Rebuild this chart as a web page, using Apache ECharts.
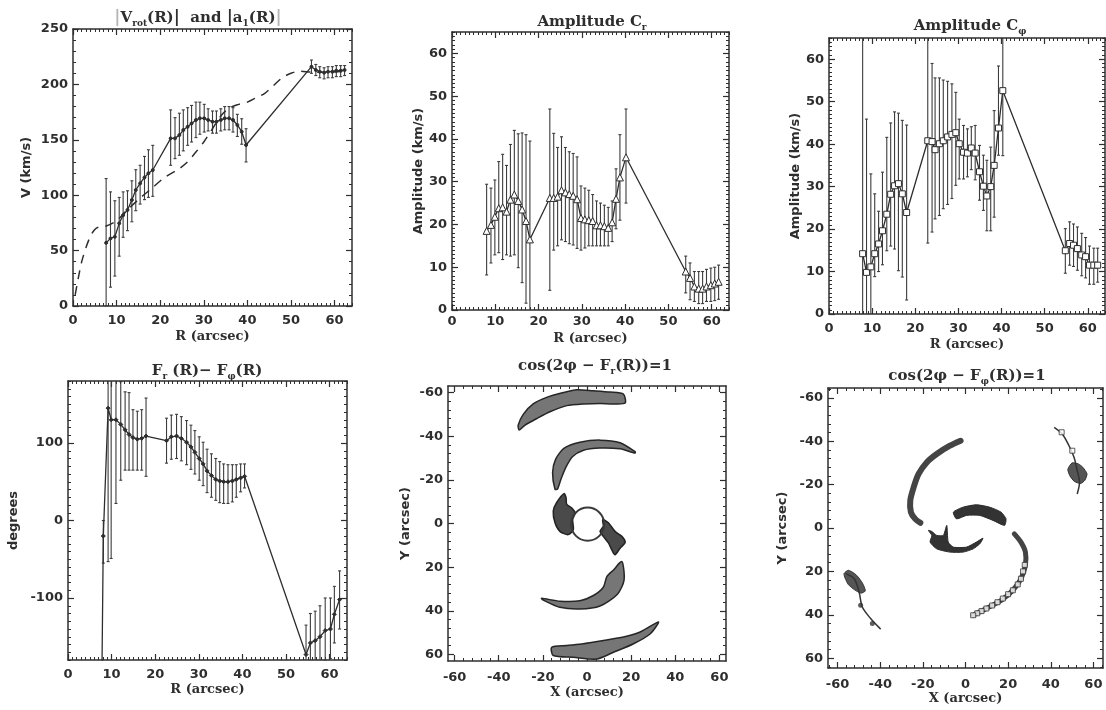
<!DOCTYPE html>
<html><head><meta charset="utf-8">
<script src="https://cdn.jsdelivr.net/npm/echarts@6/dist/echarts.min.js"></script>
<style>html,body{margin:0;padding:0;background:#fff}#c{width:1106px;height:710px}</style>
</head><body><div id="c"></div>
<script>
// ================= DATA =================
const rTicks = [0, 10, 20, 30, 40, 50, 60];
const vTicks = [0, 50, 100, 150, 200, 250];
const ampTicks = [0, 10, 20, 30, 40, 50, 60];
const degTicks = [-100, 0, 100];
const xyTicks = [-60, -40, -20, 0, 20, 40, 60];

// Panel 1: |Vrot(R)| with errors, and |a1(R)| dashed
const p1R  = [7.6, 8.6, 9.6, 10.6, 11.5, 12.5, 13.5, 14.4, 15.4, 16.4, 17.3, 18.3,
              22.4, 23.4, 24.4, 25.3, 26.3, 27.2, 28.2, 29.1, 30.1, 31.0, 32.0, 32.9, 33.9, 34.8, 35.8, 36.7, 37.7, 38.7, 39.7,
              54.7, 55.7, 56.6, 57.6, 58.5, 59.5, 60.4, 61.4, 62.3];
const p1V  = [57, 61, 62.5, 74.6, 82, 86.7, 95.7, 104.7, 110.7, 116, 119.8, 122.7,
              151.3, 151.3, 154.3, 158.8, 161.8, 164.8, 167.9, 169.4, 169.4, 167.9, 166.4, 166.4, 167.9, 169.4, 169.4, 167.9, 163.4, 157.3, 145.3,
              216, 213, 211.5, 210.6, 211.5, 211.5, 212.4, 212.4, 213];
const p1Hi = [115, 103, 95, 98, 103, 104, 113, 123, 127, 135, 141, 145,
              177, 170, 174, 177, 179, 181, 184, 184, 182, 178, 176, 176, 178, 180, 180, 179, 173, 169, 160,
              222, 218, 216, 215, 216, 216, 217, 217, 217];
const p1Lo = [0, 17, 27, 45, 62, 68, 76, 86, 92, 96, 98, 99,
              127, 133, 136, 140, 145, 148, 152, 155, 157, 158, 156, 156, 158, 159, 159, 157, 153, 146, 130,
              210, 208, 206, 205, 206, 206, 207, 207, 208];
const p1DashR = [0.5, 1.2, 2.0, 3.0, 4.0, 5.0, 5.8, 7.5, 10, 12, 15, 18, 21, 24, 26, 28, 30, 32, 34, 36, 38, 40, 42, 44, 46, 48, 50, 52, 55, 58, 62];
const p1DashV = [10, 25, 40, 53, 63, 69, 71, 72, 77, 85, 96, 106, 116, 123, 129, 138, 148, 160, 172, 179, 182, 184, 188, 192, 199, 206, 210, 212, 211, 211, 212];

// Panel 2: amplitude C_r
const p2R  = [8.0, 9.0, 9.9, 10.8, 11.7, 12.6, 13.5, 14.4, 15.3, 16.2, 17.1, 18.0,
              22.6, 23.5, 24.4, 25.3, 26.2, 27.1, 28.0, 28.9, 29.8, 30.7, 31.6, 32.5, 33.4, 34.3, 35.2, 36.1, 37.0, 37.9, 38.8, 40.2,
              54.0, 55.0, 56.0, 57.0, 57.9, 58.8, 59.8, 60.7, 61.6];
const p2C  = [18.5, 19.9, 21.8, 23.8, 24, 23, 25.8, 27, 25.5, 23.5, 20.8, 16.5,
              26.2, 26.2, 26.5, 28, 27.5, 27.1, 26.7, 25.9, 21.5, 21.2, 21, 20.8, 19.8, 19.8, 19.6, 19.2, 20.5, 26, 31, 35.7,
              9, 7.5, 5.5, 5, 5, 5.5, 5.8, 6.2, 6.6];
const p2Hi = [29.4, 28.5, 30.4, 34.7, 36.4, 33.8, 38.7, 42, 41.2, 41.4, 41, 39.5,
              47, 41.3, 38, 40.5, 38, 37, 36.6, 35.8, 29, 28.5, 28, 27, 25.5, 25, 24.5, 24, 25.5, 33, 41, 47,
              12.6, 11, 9, 9, 9, 9.5, 9.8, 10, 10.5];
const p2Lo = [8.2, 11, 12.9, 13.4, 11.8, 12.9, 12.6, 12.9, 9.9, 6.4, 1.6, -5,
              4.6, 14, 15, 16.4, 16, 15.5, 15.2, 14.4, 14, 14.5, 15, 15, 15, 15, 15, 15, 16, 19, 21, 25,
              4, 2.4, 2, 1.5, 1.5, 2, 2, 2.2, 2.5];

// Panel 3: amplitude C_phi
const p3R  = [7.8, 8.7, 9.7, 10.6, 11.5, 12.4, 13.4, 14.3, 15.2, 16.1, 17.0, 18.0,
              22.9, 23.9, 24.6, 25.6, 26.5, 27.5, 28.5, 29.4, 30.2, 31.2, 32.1, 33.0, 33.9, 34.9, 35.8, 36.6, 37.5, 38.3, 39.3, 40.3,
              54.8, 55.8, 56.7, 57.6, 58.6, 59.5, 60.4, 61.4, 62.3];
const p3C  = [14.2, 9.8, 11.1, 14.2, 16.5, 19.6, 23.5, 28.2, 30.2, 30.7, 28.3, 23.9,
              40.8, 40.6, 38.7, 40.1, 40.8, 41.7, 42.3, 42.7, 40.1, 38.1, 37.9, 39.1, 37.9, 33.5, 30.1, 27.8, 30.0, 35.0, 43.8, 52.6,
              14.9, 16.6, 16.2, 15.4, 13.9, 13.5, 11.5, 11.5, 11.5];
const p3Hi = [90, 45.9, 33, 28.3, 24.2, 33.4, 41.6, 45, 47.6, 47.3, 45.6, 44.5,
              90, 59, 55.6, 55.6, 55.1, 54.8, 54.2, 52.2, 45.9, 44.4, 43.6, 44.1, 44.4, 39.7, 37.4, 36.2, 39.3, 47.9, 58.4, 90,
              20.1, 21.7, 21.2, 20.5, 19, 18, 16, 15.5, 15.5];
const p3Lo = [-5, -5, -5, 8.8, 10, 11.6, 14.9, 16, 15.3, 10.2, 8.7, 3.3,
              16.7, 19.3, 22.4, 23.2, 24.8, 25.8, 27.2, 30.3, 31.8, 31.8, 32.3, 34, 31.6, 26.8, 24.4, 19.6, 19.6, 22.8, 37.4, 37.3,
              9.6, 11.5, 11.2, 10.3, 9, 8.5, 7, 7, 7.5];

// Panel 4: F_r(R) - F_phi(R)
const p4R  = [7.8, 8.1, 9.2, 9.9, 11.0, 12.1, 13.1, 14.0, 14.9, 15.9, 16.9, 17.9,
              22.6, 23.7, 24.9, 26.0, 27.2, 28.2, 29.1, 30.1, 31.0, 31.9, 32.9, 33.9, 34.8, 35.7, 36.7, 37.7, 38.6, 39.6, 40.5,
              54.6, 55.6, 56.7, 57.8, 59.0, 60.2, 61.1, 62.3];
const p4D  = [-190, -20, 145, 130, 130, 124, 117, 111, 107, 105, 106, 109,
              103, 108, 109, 106, 101, 95, 88, 80, 73, 64, 58, 53, 51, 50, 50, 51, 53, 55, 57,
              -173, -158, -155, -150, -142, -140, -121, -102];
const p4Hi = [-190, 0, 200, 200, 200, 179, 166, 165, 143, 141, 143, 158,
              132, 136, 137, 134, 129, 123, 116, 108, 101, 92, 86, 80, 76, 73, 72, 72, 72, 73, 73,
              -135, -120, -117, -110, -100, -100, -85, -65];
const p4Lo = [-190, -55, -53, -49, 22, 52, 65, 65, 65, 65, 65, 57,
              74, 79, 80, 77, 72, 66, 60, 52, 45, 36, 30, 26, 23, 22, 22, 24, 30, 37, 42,
              -210, -196, -193, -188, -180, -178, -158, -140];

// Panel 5: regions where cos(2phi - F_r(R)) = 1 (outlines, X/Y arcsec)
const p5ArcTop = [[-31.2,-45],[-28.9,-50],[-24.4,-54.8],[-18.3,-57.8],[-10.7,-60],[-4.7,-61.3],[2.9,-60.8],[10.5,-60.2],[16.5,-59.3],[17.3,-55.2],[12,-54.8],[5.9,-55],[-1.6,-54.8],[-9.2,-54],[-16.8,-51.2],[-22.9,-48],[-28.2,-45],[-30.7,-42.8]];
const p5ArcUpper = [[-14.5,-15.7],[-15.6,-23.4],[-14.2,-29.5],[-10.5,-34.4],[-3.2,-37.2],[5.9,-38.2],[15,-37],[21.8,-32.9],[21.8,-32.3],[15,-34.2],[5.9,-34.6],[-1.6,-33.6],[-6.6,-30.6],[-9.6,-25.7],[-11.8,-20.3],[-13.4,-15.7]];
const p5BlobL = [[-10.4,-13.7],[-13.8,-9.5],[-15.3,-5.7],[-14.5,-0.3],[-12.3,3.6],[-8.5,5.1],[-6.2,2.8],[-6.5,-1.8],[-5.4,-4.9],[-7,-7.2],[-9.2,-8.8],[-9.5,-11.8]];
const p5BlobR = [[7.1,-1.8],[9.7,-0.3],[12.7,3.6],[15.8,5.9],[17.3,8.6],[15,11.3],[12.7,14.3],[11.2,12],[9.7,8.9],[7.4,5.9],[5.9,3.6],[7.4,1.2]];
const p5ArcLower = [[15.8,17.4],[16.8,25.9],[13.8,32.4],[5.9,37.8],[-3.2,39.2],[-12.3,38.4],[-19.8,35.1],[-20.6,34.3],[-12.3,35.6],[-3.2,35.4],[2.9,33],[7.4,29.2],[9,24.3],[12,21.3]];
const p5ArcBottom = [[-15.3,60.5],[-6.2,61.3],[4.4,62.1],[12,59],[21.1,55.1],[28.7,50.5],[32.4,45.1],[24.1,49.7],[16.5,52],[7.4,53.6],[-1.7,55.1],[-9.2,55.9],[-16,56.7]];
const p5Ring = [[0.3, 0.3, 7.5]]; // centre x, centre y, radius

// Panel 6: regions where cos(2phi - F_phi(R)) = 1
const p6ArmUL = [[-2.3,-40.2],[-7.3,-37.9],[-13.5,-34.1],[-18.1,-30.3],[-22,-24.9],[-24.3,-18.8],[-25.9,-12.7],[-25.6,-7.3],[-23.6,-4.2],[-21.2,-2.4]];
const p6ArmLR = [[22.9,2.7],[26,6.5],[28.1,11.1],[28.1,17.2],[26,23.4],[22.2,28.7],[16.8,33.3],[9.8,37.1],[3.6,40.2]];
const p6LineUR = [[41.6,-46.4],[45.4,-43.3],[48.5,-38],[50.9,-32.6],[52.4,-26.5],[53.5,-21.1],[52.4,-15.7]];
const p6LineLL = [[-56.1,21],[-52.2,23.4],[-49.9,29.5],[-48.4,36.4],[-44.5,41.7],[-39.8,46.6]];
const p6BlobTop = [[-5.7,-7.3],[-1.1,-9.6],[5.1,-10.7],[11.3,-9.6],[16.7,-7.3],[19,-4.2],[18.3,-1.2],[12.9,-3.5],[6.7,-5.8],[0.5,-5.8],[-4.2,-4.2]];
const p6BlobBot = [[-17.4,1.1],[-15.8,3.4],[-16.6,6.5],[-13.5,9.6],[-7.3,11.1],[-1.1,11.1],[3.6,9.6],[6.7,7.3],[8.2,4.7],[5.1,6.5],[0.5,8.8],[-5.7,8.8],[-8.1,6.5],[-8.8,-1.2],[-10.4,3.4],[-13.5,3.4],[-15.8,1.6]];
const p6BlobUR = [[48,-27],[50,-30],[53,-29.5],[55,-28],[57,-25],[56,-22],[54,-20.5],[51,-21.5],[49,-24]];
const p6BlobLL = [[-57,21],[-55,19.5],[-52,21],[-50,23],[-48,26],[-47,29],[-49,30],[-52,28.5],[-55,26],[-56.5,23]];
const p6Squares = [[27.8,17],[27,20],[26,23.4],[24.5,26],[22.2,28.7],[20,30.5],[17.5,32.5],[15,34.2],[12.5,35.7],[9.8,37.1],[7.5,38.3],[5.5,39.3],[3.6,40.2],[45.1,-44.1],[50.1,-35.6]];
const p6Dots = [[-49.2,35.6],[-43.7,44]];

// ================= BUILD =================
const INK = '#2e2e2e';
const INK2 = '#3c3c3c';
const grids = [], xAxes = [], yAxes = [], series = [], graphics = [];

function stepVals(min, max, step) {
  const a = [];
  for (let k = Math.ceil(min / step - 1e-9); k * step <= max + 1e-9; k++) a.push(+(k * step).toFixed(6));
  return a;
}
const labelFont = { color: INK, fontFamily: 'DejaVu Sans', fontWeight: 'bold', fontSize: 13 };
const nameFontX = { color: INK, fontFamily: 'DejaVu Serif', fontWeight: 'bold', fontSize: 13 };
const nameFontY = { color: INK, fontFamily: 'DejaVu Sans', fontWeight: 'bold', fontSize: 13 };

function addPanel(o) {
  const g = grids.length;
  const gr = { left: o.rect[0], top: o.rect[1], width: o.rect[2], height: o.rect[3], show: false };
  grids.push(gr, Object.assign({}, gr));
  const xi = xAxes.length, yi = yAxes.length;
  const line = { show: true, onZero: false, lineStyle: { color: INK, width: 1.5 } };
  const noLine = { show: false, onZero: false };
  const base = (gi, pos, r, inv) => ({ type: 'value', gridIndex: gi, position: pos, min: r[0], max: r[1], inverse: !!inv,
    splitLine: { show: false }, axisPointer: { show: false } });
  const major = (vals) => ({ show: true, inside: true, length: 6, customValues: vals, lineStyle: { color: INK, width: 1.2 } });
  const minor = (vals) => ({ show: true, inside: true, length: 3, customValues: vals, lineStyle: { color: INK, width: 1 } });
  const xMin = stepVals(o.x[0], o.x[1], o.xStep), yMin = stepVals(o.y[0], o.y[1], o.yStep);
  // x axes
  xAxes.push(Object.assign(base(g, 'bottom', o.x), { axisLine: line, axisTick: major(o.xTicks),
    axisLabel: Object.assign({ show: true, customValues: o.xTicks, margin: o.xMargin || 8 }, labelFont),
    name: o.xName, nameLocation: 'middle', nameGap: o.xGap, nameTextStyle: nameFontX }));
  xAxes.push(Object.assign(base(g, 'top', o.x), { axisLine: line, axisTick: major(o.xTicks), axisLabel: { show: false } }));
  xAxes.push(Object.assign(base(g + 1, 'bottom', o.x), { axisLine: noLine, axisTick: minor(xMin), axisLabel: { show: false } }));
  xAxes.push(Object.assign(base(g + 1, 'top', o.x), { axisLine: noLine, axisTick: minor(xMin), axisLabel: { show: false } }));
  // y axes
  yAxes.push(Object.assign(base(g, 'left', o.y, o.yInv), { axisLine: line, axisTick: major(o.yTicks),
    axisLabel: Object.assign({ show: true, customValues: o.yTicks, margin: 5 }, labelFont),
    name: o.yName, nameLocation: 'middle', nameGap: o.yGap, nameRotate: 90, nameTextStyle: nameFontY }));
  yAxes.push(Object.assign(base(g, 'right', o.y, o.yInv), { axisLine: line, axisTick: major(o.yTicks), axisLabel: { show: false } }));
  yAxes.push(Object.assign(base(g + 1, 'left', o.y, o.yInv), { axisLine: noLine, axisTick: minor(yMin), axisLabel: { show: false } }));
  yAxes.push(Object.assign(base(g + 1, 'right', o.y, o.yInv), { axisLine: noLine, axisTick: minor(yMin), axisLabel: { show: false } }));
  return { xi, yi };
}

function errSeries(ax, R, lo, hi) {
  return { type: 'custom', xAxisIndex: ax.xi, yAxisIndex: ax.yi, silent: true, z: 2,
    data: R.map((r, i) => [r, lo[i], hi[i]]),
    renderItem: function (params, api) {
      const cs = params.coordSys;
      const x = api.value(0);
      const a = api.coord([x, api.value(2)]), b = api.coord([x, api.value(1)]);
      const top = cs.y, bot = cs.y + cs.height;
      const clampY = (y) => Math.max(top, Math.min(bot, y));
      const st = { stroke: INK2, lineWidth: 1.1 };
      const ch = [{ type: 'line', shape: { x1: a[0], y1: clampY(a[1]), x2: a[0], y2: clampY(b[1]) }, style: st }];
      if (a[1] >= top && a[1] <= bot) ch.push({ type: 'line', shape: { x1: a[0] - 1.5, y1: a[1], x2: a[0] + 1.5, y2: a[1] }, style: st });
      if (b[1] >= top && b[1] <= bot) ch.push({ type: 'line', shape: { x1: b[0] - 1.5, y1: b[1], x2: b[0] + 1.5, y2: b[1] }, style: st });
      return { type: 'group', children: ch };
    } };
}
function lineSeries(ax, R, V, sym) {
  return { type: 'line', xAxisIndex: ax.xi, yAxisIndex: ax.yi, z: 3, clip: true,
    data: R.map((r, i) => [r, V[i]]),
    symbol: sym.symbol, symbolSize: sym.size, showSymbol: true,
    itemStyle: { color: sym.fill, borderColor: INK, borderWidth: 1 },
    lineStyle: { color: INK, width: 1.3 } };
}
function shapeSeries(ax, shapes, kind, styles, smooth) {
  return { type: 'custom', xAxisIndex: ax.xi, yAxisIndex: ax.yi, silent: true, clip: true, z: 2,
    data: shapes.map((s, i) => [s[0][0], s[0][1], i]),
    renderItem: function (params, api) {
      const i = api.value(2);
      const pts = shapes[i].map(p => api.coord(p));
      return { type: kind, shape: { points: pts, smooth: smooth }, style: styles[i] };
    } };
}

// ---- Panel 1
const a1 = addPanel({ rect: [73, 29, 279, 277], x: [0, 64], y: [0, 250], xTicks: rTicks, yTicks: vTicks, xStep: 1, yStep: 10,
  xName: 'R (arcsec)', xGap: 24, yName: 'V (km/s)', yGap: 40 });
series.push(errSeries(a1, p1R, p1Lo, p1Hi));
series.push(lineSeries(a1, p1R, p1V, { symbol: 'circle', size: 3, fill: INK }));
series.push({ type: 'line', xAxisIndex: a1.xi, yAxisIndex: a1.yi, z: 3, showSymbol: false, symbol: 'none', smooth: 0.3,
  data: p1DashR.map((r, i) => [r, p1DashV[i]]), lineStyle: { color: INK, width: 1.5, type: [9, 7] } });

// ---- Panel 2
const a2 = addPanel({ rect: [452, 32, 277, 278], x: [0, 64], y: [0, 65], xTicks: rTicks, yTicks: ampTicks, xStep: 1, yStep: 1,
  xName: 'R (arcsec)', xGap: 22, xMargin: 5, yName: 'Amplitude (km/s)', yGap: 27 });
series.push(errSeries(a2, p2R, p2Lo, p2Hi));
series.push(lineSeries(a2, p2R, p2C, { symbol: 'triangle', size: 7, fill: '#fff' }));

// ---- Panel 3
const a3 = addPanel({ rect: [829, 38, 276, 276], x: [0, 64], y: [0, 65], xTicks: rTicks, yTicks: ampTicks, xStep: 1, yStep: 1,
  xName: 'R (arcsec)', xGap: 24, yName: 'Amplitude (km/s)', yGap: 27 });
series.push(errSeries(a3, p3R, p3Lo, p3Hi));
series.push(lineSeries(a3, p3R, p3C, { symbol: 'rect', size: 6, fill: '#fff' }));

// ---- Panel 4
const a4 = addPanel({ rect: [68, 381, 279, 279], x: [0, 64], y: [-180, 180], xTicks: rTicks, yTicks: degTicks, xStep: 1, yStep: 10,
  xName: 'R (arcsec)', xGap: 23, yName: 'degrees', yGap: 48 });
series.push(errSeries(a4, p4R, p4Lo, p4Hi));
series.push(lineSeries(a4, p4R, p4D, { symbol: 'diamond', size: 4, fill: INK }));

// ---- Panel 5
const a5 = addPanel({ rect: [448, 386, 278, 275], x: [-63, 63], y: [-63, 63], yInv: true, xTicks: xyTicks, yTicks: xyTicks, xStep: 4, yStep: 4,
  xName: 'X (arcsec)', xGap: 25, xMargin: 10, yName: 'Y (arcsec)', yGap: 36 });
const armStyle = { fill: '#767676', stroke: '#262626', lineWidth: 1.5 };
const blobStyle = { fill: '#4a4a4a', stroke: '#222', lineWidth: 1.5 };
series.push(shapeSeries(a5, [p5ArcTop, p5ArcUpper, p5BlobL, p5BlobR, p5ArcLower, p5ArcBottom], 'polygon',
  [armStyle, armStyle, blobStyle, blobStyle, armStyle, armStyle], 0.25));
series.push({ type: 'custom', xAxisIndex: a5.xi, yAxisIndex: a5.yi, silent: true, z: 3, data: p5Ring,
  renderItem: function (params, api) {
    const c = api.coord([api.value(0), api.value(1)]);
    const r = api.size([api.value(2), 0])[0];
    return { type: 'circle', shape: { cx: c[0], cy: c[1], r: r }, style: { fill: 'none', stroke: '#3a3a3a', lineWidth: 2 } };
  } });

// ---- Panel 6
const a6 = addPanel({ rect: [828, 388, 275, 280], x: [-64.5, 64.5], y: [-64.5, 64.5], yInv: true, xTicks: xyTicks, yTicks: xyTicks, xStep: 4, yStep: 4,
  xName: 'X (arcsec)', xGap: 23, xMargin: 10, yName: 'Y (arcsec)', yGap: 39 });
const b6 = { fill: '#333', stroke: '#2a2a2a', lineWidth: 1 };
const b6s = { fill: '#555', stroke: '#333', lineWidth: 1 };
series.push(shapeSeries(a6, [p6BlobTop, p6BlobBot, p6BlobUR, p6BlobLL], 'polygon', [b6, b6, b6s, b6s], 0.2));
series.push(shapeSeries(a6, [p6ArmUL, p6ArmLR, p6LineUR, p6LineLL], 'polyline', [
  { fill: 'none', stroke: '#444', lineWidth: 6, lineCap: 'round', lineJoin: 'round' },
  { fill: 'none', stroke: '#444', lineWidth: 5, lineCap: 'round', lineJoin: 'round' },
  { fill: 'none', stroke: '#333', lineWidth: 1.5 },
  { fill: 'none', stroke: '#333', lineWidth: 1.5 }], 0.3));
series.push({ type: 'scatter', xAxisIndex: a6.xi, yAxisIndex: a6.yi, z: 4, symbol: 'rect', symbolSize: 5, silent: true,
  data: p6Squares, itemStyle: { color: '#fff', borderColor: '#333', borderWidth: 1 } });
series.push({ type: 'scatter', xAxisIndex: a6.xi, yAxisIndex: a6.yi, z: 4, symbol: 'circle', symbolSize: 5, silent: true,
  data: p6Dots, itemStyle: { color: '#333' } });

// ---- Titles
const tFont = { fontFamily: 'DejaVu Serif', fontWeight: 'bold' };
const rich = {
  t: Object.assign({ fontSize: 15, fill: INK, lineHeight: 20, verticalAlign: 'middle' }, tFont),
  s: Object.assign({ fontSize: 9, fill: INK, lineHeight: 10, verticalAlign: 'bottom' }, tFont),
  g: Object.assign({ fontSize: 17, fill: '#b5b5b5', lineHeight: 20, verticalAlign: 'middle' }, tFont),
  d: Object.assign({ fontSize: 17, fill: INK, lineHeight: 20, verticalAlign: 'middle' }, tFont)
};
function title(x, y, text) {
  graphics.push({ type: 'text', x: x, y: y, z: 10, silent: true,
    style: { text: text, rich: rich, align: 'center', verticalAlign: 'middle' } });
}
title(198, 18, '{g||}{t|V}{s|rot}{t|(R)}{d||}{t|  and }{d||}{t|a}{s|1}{t|(R)}{g||}');
title(592, 22, '{t|Amplitude C}{s|r}');
title(970, 26, '{t|Amplitude C}{s|φ}');
title(207, 371, '{t|F}{s|r}{t| (R)\u2212 F}{s|φ}{t|(R)}');
title(595, 366, '{t|cos(2φ \u2212 F}{s|r}{t|(R))=1}');
title(967, 376, '{t|cos(2φ \u2212 F}{s|φ}{t|(R))=1}');

const chart = echarts.init(document.getElementById('c'), null, { renderer: 'canvas' });
chart.setOption({
  animation: false,
  backgroundColor: '#ffffff',
  grid: grids, xAxis: xAxes, yAxis: yAxes, series: series, graphic: graphics
});
</script></body></html>
